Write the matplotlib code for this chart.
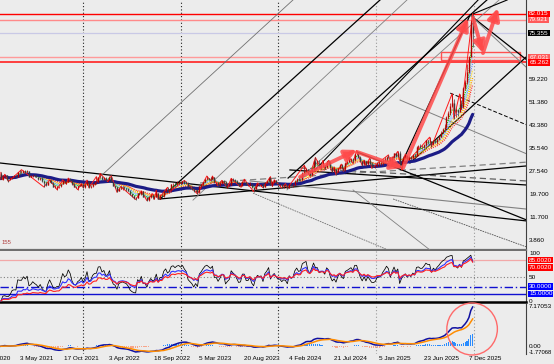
import numpy as np
import pandas as pd
import matplotlib
matplotlib.use("Agg")
import matplotlib.pyplot as plt
from matplotlib import font_manager
from matplotlib.patches import Rectangle, Ellipse

names = {f.name for f in font_manager.fontManager.ttflist}
if "Liberation Sans Narrow" in names:
    plt.rcParams["font.family"] = ["Liberation Sans Narrow", "DejaVu Sans"]
    fs = 5.4
else:
    plt.rcParams["font.family"] = ["Liberation Sans", "DejaVu Sans"]
    fs = 4.6

BG = "#ececec"

# weekly XAGUSD bars, week of 28 Feb 2021 .. week of 28 Dec 2025
start = "2021-02-28"
first_open = 26.7
close = [
    25.2, 26.2, 26.3, 25.1, 24.95, 25.3, 25.9, 26.0, 25.9, 27.5,
    27.4, 27.4, 27.95, 27.6, 28.0, 25.9, 26.1, 26.5, 26.1, 25.8,
    25.2, 25.5, 24.4, 23.7, 23.1, 24.0, 24.7, 23.8, 22.4, 22.4,
    22.6, 22.6, 23.3, 24.4, 23.9, 24.1, 25.2, 24.7, 23.3, 22.4,
    22.2, 22.7, 22.9, 23.3,
    22.4, 23.0, 24.3, 22.3, 22.5, 23.5, 23.95, 24.0, 25.8, 25.9,
    25.1, 25.5, 24.7, 24.8, 25.7, 24.1, 22.8, 22.4, 20.8, 21.8,
    22.0, 22.1, 21.9, 21.7, 21.1, 19.9, 19.2, 18.7, 18.6, 20.3,
    19.9, 20.8, 19.0, 19.0, 17.9, 18.8, 19.4, 18.9, 19.0, 20.1,
    18.3, 19.3, 19.2, 20.9, 21.7, 20.9, 21.4, 23.2, 23.5, 23.2,
    23.8, 24.0,
    23.8, 24.3, 23.9, 23.6, 22.4, 22.0, 21.6, 20.8, 21.2, 20.5,
    22.6, 23.2, 24.1, 25.0, 25.4, 25.2, 25.0, 25.6, 23.9, 23.9,
    23.1, 23.6, 24.3, 24.2, 22.4, 22.8, 23.1, 25.0, 24.6, 24.3,
    23.6, 22.7, 22.8, 24.2, 24.2, 23.0, 23.0, 23.5, 22.3, 21.6,
    22.7, 23.4, 23.2, 23.3, 22.3, 23.8, 24.4, 25.5, 23.0, 24.0,
    24.6, 23.8,
    23.2, 23.2, 22.6, 22.9, 22.8, 22.1, 23.4, 22.9, 23.1, 24.4,
    25.2, 24.7, 24.9, 27.3, 28.0, 28.6, 27.2, 26.6, 28.2, 31.4,
    30.3, 30.4, 29.2, 29.6, 29.6, 29.1, 31.2, 30.8, 29.2, 28.0,
    28.5, 27.5, 28.9, 29.9, 28.9, 28.5, 30.7, 31.1, 31.6, 32.1,
    31.6, 33.7, 33.7, 32.6, 31.3, 30.3, 31.3, 30.1, 31.2, 30.4,
    29.5, 29.4,
    29.6, 30.4, 30.4, 30.6, 31.3, 31.9, 32.8, 32.5, 31.2, 32.5,
    34.0, 33.1, 34.1, 29.6, 31.3, 32.3, 33.1, 32.0, 32.7, 32.3,
    33.4, 33.0, 36.0, 36.3, 36.0, 36.0, 36.9, 38.4, 38.2, 38.2,
    37.0, 38.3, 38.0, 38.9, 39.7, 41.0, 42.2, 43.1, 46.4, 48.0,
    50.2, 51.3, 48.6, 48.7, 48.3, 50.8, 50.0, 56.5, 58.4, 62.0,
    67.1, 79.3, 75.355,
]
high = [
    27.4, 26.4, 26.7, 26.4, 25.2, 25.6, 26.1, 26.6, 26.4, 27.6,
    28.1, 28.3, 28.1, 28.3, 28.3, 28.0, 26.3, 26.6, 26.4, 26.4,
    25.8, 25.8, 25.6, 24.4, 23.9, 24.1, 24.8, 24.8, 24.0, 22.9,
    22.8, 22.8, 23.5, 24.8, 24.6, 24.3, 25.4, 25.4, 24.8, 23.6,
    22.6, 22.9, 23.1, 23.5,
    23.4, 23.4, 24.7, 24.3, 22.8, 23.6, 24.0, 25.9, 25.9, 27.0,
    26.1, 25.9, 25.6, 24.9, 26.0, 26.2, 24.2, 22.9, 22.6, 22.0,
    22.5, 22.5, 22.5, 22.0, 21.9, 21.4, 20.1, 19.4, 19.0, 20.4,
    20.4, 20.9, 20.9, 19.3, 19.0, 19.1, 19.9, 20.0, 19.3, 21.2,
    20.2, 19.4, 19.8, 21.0, 22.0, 22.2, 21.5, 23.4, 23.6, 24.0,
    24.3, 24.2,
    24.5, 24.4, 24.6, 24.3, 24.2, 22.5, 22.2, 21.9, 21.3, 21.3,
    22.7, 23.5, 24.2, 25.1, 26.1, 25.5, 25.6, 26.1, 25.8, 24.2,
    23.8, 24.0, 24.6, 24.6, 24.3, 23.0, 23.3, 25.3, 25.3, 25.0,
    24.8, 23.7, 22.9, 24.4, 25.0, 24.2, 23.4, 23.9, 23.7, 22.0,
    22.8, 23.7, 23.6, 23.4, 23.4, 24.0, 24.5, 25.6, 25.9, 24.5,
    24.8, 24.6,
    23.8, 23.4, 23.3, 23.2, 23.5, 22.9, 23.5, 23.3, 23.2, 24.6,
    25.3, 25.8, 25.2, 27.5, 29.8, 29.0, 28.7, 27.6, 28.7, 31.5,
    32.5, 31.8, 31.6, 30.1, 31.5, 29.8, 31.3, 31.5, 31.3, 29.3,
    29.2, 28.7, 29.0, 30.1, 30.2, 29.0, 30.9, 31.3, 32.7, 32.4,
    32.2, 33.8, 34.9, 34.5, 33.0, 31.3, 31.6, 31.2, 31.4, 32.3,
    30.8, 29.9,
    30.0, 30.9, 31.2, 31.0, 32.0, 32.6, 32.9, 33.4, 32.6, 33.0,
    34.2, 34.1, 34.6, 34.6, 31.6, 33.0, 33.7, 33.3, 33.0, 33.0,
    33.6, 33.7, 36.4, 36.8, 37.3, 36.9, 37.3, 38.5, 38.4, 39.5,
    38.3, 38.6, 38.7, 39.0, 39.8, 41.5, 42.5, 43.9, 46.9, 48.6,
    51.2, 54.5, 52.6, 49.4, 49.2, 54.4, 52.2, 56.9, 59.3, 64.7,
    67.5, 80.0, 82.015,
]
low = [
    25.0, 24.8, 25.7, 24.6, 24.2, 24.6, 25.0, 25.6, 25.6, 25.8,
    26.5, 27.1, 27.3, 27.3, 27.4, 25.6, 25.7, 25.8, 25.7, 25.6,
    24.8, 24.8, 24.1, 22.3, 22.7, 22.9, 23.9, 23.6, 22.2, 22.0,
    21.4, 22.1, 22.2, 23.2, 23.7, 23.3, 23.9, 24.5, 23.0, 22.2,
    21.9, 21.4, 22.5, 22.7,
    22.0, 22.1, 22.9, 22.0, 22.0, 22.3, 23.0, 23.7, 24.0, 25.4,
    24.6, 24.8, 24.5, 24.2, 24.7, 24.0, 22.6, 22.0, 20.5, 20.8,
    21.6, 21.4, 21.5, 20.9, 20.9, 19.6, 18.8, 18.2, 18.0, 18.5,
    19.6, 19.6, 18.9, 18.8, 17.6, 17.6, 18.5, 18.1, 18.1, 19.0,
    18.1, 18.1, 18.9, 19.0, 20.5, 20.8, 20.6, 21.0, 22.1, 22.6,
    22.9, 23.4,
    23.1, 23.2, 23.3, 23.2, 22.3, 21.8, 21.3, 20.6, 20.6, 19.9,
    20.4, 22.1, 22.8, 23.9, 24.6, 24.7, 24.5, 24.8, 23.6, 23.1,
    22.7, 22.7, 23.3, 23.4, 22.3, 22.1, 22.5, 23.1, 24.4, 24.0,
    23.5, 22.6, 22.3, 22.9, 23.9, 22.9, 22.7, 23.0, 21.9, 20.7,
    21.5, 22.6, 22.7, 22.6, 22.1, 22.2, 23.6, 24.5, 22.9, 22.5,
    23.7, 23.7,
    22.9, 22.6, 22.0, 22.1, 22.7, 21.9, 21.9, 22.6, 22.3, 23.0,
    24.1, 24.5, 24.4, 24.9, 27.1, 27.6, 26.7, 26.1, 26.6, 28.1,
    29.7, 30.0, 29.2, 28.7, 29.2, 28.6, 28.9, 30.3, 28.9, 27.5,
    27.6, 26.5, 27.4, 28.6, 28.8, 27.7, 27.9, 30.1, 30.8, 30.8,
    30.5, 31.4, 33.3, 32.4, 30.8, 29.7, 30.0, 29.7, 30.0, 30.3,
    28.8, 29.2,
    28.8, 29.6, 29.7, 30.0, 30.0, 31.6, 31.2, 32.4, 31.1, 31.1,
    32.2, 32.8, 32.7, 29.2, 28.3, 31.4, 32.2, 31.8, 31.6, 31.6,
    32.2, 32.7, 32.9, 35.4, 35.5, 35.3, 35.6, 36.5, 37.2, 37.9,
    36.2, 36.9, 37.5, 37.3, 38.4, 39.6, 40.8, 41.7, 42.8, 45.9,
    47.1, 50.0, 45.9, 46.3, 46.9, 48.1, 49.1, 49.5, 55.8, 57.9,
    61.8, 68.0, 70.6,
]

date_labels = ["15 Nov 2020", "3 May 2021", "17 Oct 2021", "3 Apr 2022", "18 Sep 2022",
               "5 Mar 2023", "20 Aug 2023", "4 Feb 2024", "21 Jul 2024", "5 Jan 2025",
               "23 Jun 2025", "7 Dec 2025"]
separators = ["2022-01-01", "2023-01-01", "2024-01-01", "2025-01-01", "2026-01-01"]

# horizontal levels: price, colour, width
levels = [(82.015, "#ff0000", 1.0), (79.921, "#ff8a8a", 1.0), (75.355, "#c9c9e6", 0.9),
          (67.031, "#ff9a9a", 1.0), (65.262, "#ff3030", 1.3)]
price_labels = ["59.220", "51.380", "43.380", "35.540", "27.540", "19.700", "11.700", "3.860"]
level_labels = [("82.015", 82.015, "#ff0000"), ("79.921", 79.921, "#ff5a5a"),
                ("75.355", 75.355, "#000000"), ("67.031", 67.031, "#ff5a5a"),
                ("65.262", 65.262, "#ff0000")]
rsi_labels = [("100", 100, None), ("85.0020", 85, "#ff0000"), ("70.0020", 70, "#ff0000"),
              ("50", 50, None), ("30.0000", 30, "#0000ff"), ("15.0000", 15, "#0000ff"), ("0", 0, None)]

# hand drawn trend lines: bar0, price0, bar1, price1, colour, width, style
trendlines = [
    (-0.5, 30.6, 281.0, 10.6, "black", 0.9, "-"),
    (85.0, 18.2, 281.0, 29.6, "black", 0.9, "-"),
    (106.4, 23.7, 281.0, 30.9, "#808080", 0.9, (0, (5, 3))),
    (154.4, 28.2, 281.0, 23.0, "black", 0.9, "-"),
    (159.8, 28.9, 281.0, 24.4, "#606060", 0.9, (0, (5, 3))),
    (133.1, 24.4, 281.0, 14.7, "#808080", 0.8, "-"),
    (190.2, 34.4, 281.0, 10.9, "black", 0.9, "-"),
    (213.2, 52.3, 281.0, 33.7, "#808080", 0.7, "-"),
    (134.7, 20.2, 206.8, 0.6, "#707070", 0.6, (0, (2, 1))),
    (188.1, 21.3, 229.2, 0.6, "#808080", 0.6, "-"),
    (209.5, 18.2, 281.0, 1.6, "#505050", 0.6, (0, (2, 1))),
    (52.9, 25.8, 156.0, 86.8, "#707070", 0.6, "-"),
    (85.0, 18.2, 202.5, 86.8, "black", 0.9, "-"),
    (102.6, 17.8, 216.9, 86.8, "#808080", 0.6, "-"),
    (153.4, 25.4, 259.6, 86.8, "black", 0.9, "-"),
    (152.8, 21.3, 266.1, 86.8, "#808080", 0.6, "-"),
    (213.2, 29.2, 250.6, 81.6, "black", 0.9, "-"),
    (167.8, 28.2, 254.9, 86.8, "black", 0.8, "-"),
    (218.5, 30.6, 281.0, 67.4, "black", 0.9, "-"),
    (250.6, 81.6, 281.0, 66.1, "black", 0.9, "-"),
    (250.6, 81.6, 281.0, 63.4, "#808080", 0.7, "-"),
    (250.6, 81.6, 270.4, 86.8, "black", 0.8, "-"),
    (240.0, 54.7, 281.0, 43.7, "black", 0.7, (0, (4, 2))),
]
# red arrows: from (bar, price) to (bar, price)
arrows = [
    (159.8, 25.8, 190.2, 35.1),
    (190.2, 34.4, 214.8, 28.9),
    (214.8, 28.9, 249.5, 80.6),
    (252.2, 80.6, 257.5, 68.5),
    (257.5, 68.5, 265.5, 84.0),
]
zone = (234.9, 66.1, 277.3, 68.9)

# ---- derived series ----
n = len(close)
idx = np.arange(n)
c = np.array(close)
h = np.array(high)
l = np.array(low)
o = np.concatenate([[first_open], c[:-1]])
s0 = pd.Timestamp(start)


def bar_of(d):
    return (pd.Timestamp(d) - s0).days / 7.0


def ema(x, p, adjust=False):
    return pd.Series(x).ewm(span=p, adjust=adjust).mean().values


def rsi(x, p):
    d = np.diff(np.concatenate([[first_open], x]))
    up = pd.Series(np.clip(d, 0, None)).ewm(alpha=1.0 / p, adjust=False).mean()
    dn = pd.Series(np.clip(-d, 0, None)).ewm(alpha=1.0 / p, adjust=False).mean()
    return (100 - 100 / (1 + up / dn)).values


def zigzag(hi, lo, pct):
    piv = [(0, lo[0])]
    rising = True
    ei, ev = 0, hi[0]
    for i in range(1, len(hi)):
        if rising:
            if hi[i] > ev:
                ei, ev = i, hi[i]
            elif lo[i] < ev * (1 - pct):
                piv.append((ei, ev))
                rising = False
                ei, ev = i, lo[i]
        else:
            if lo[i] < ev:
                ei, ev = i, lo[i]
            elif hi[i] > ev * (1 + pct):
                piv.append((ei, ev))
                rising = True
                ei, ev = i, hi[i]
    piv.append((ei, ev))
    return zip(*piv)


# ---- figure ----
fig = plt.figure(figsize=(5.54, 3.64), dpi=100, facecolor=BG)
ax = fig.add_axes([0, 0.3132, 0.9495, 0.6868])
ar = fig.add_axes([0, 0.1703, 0.9495, 0.1401])
am = fig.add_axes([0, 0.0275, 0.9495, 0.1374])
for a in (ax, ar, am):
    a.set_facecolor(BG)
    a.set_xlim(-0.48, 280.5)
    a.set_xticks([])
    a.set_yticks([])
    for sp in a.spines.values():
        sp.set_visible(False)
    a.spines["right"].set_visible(True)
    a.spines["right"].set_color("#404040")
    a.spines["right"].set_linewidth(0.8)
    for k, d in enumerate(separators):
        a.axvline(bar_of(d), color="#222222" if k < 3 else "#9a9a9a", lw=0.8,
                  ls=(0, (1, 2)), zorder=1)
ax.spines["bottom"].set_visible(True)
ax.spines["bottom"].set_color("#707070")
ax.spines["bottom"].set_linewidth(1.6)
ar.spines["bottom"].set_visible(True)
ar.spines["bottom"].set_color("black")
ar.spines["bottom"].set_linewidth(1.8)

lab_kw = dict(fontsize=fs, va="center", ha="left", clip_on=False)
LX = 1.006

# main chart
ax.set_ylim(0.6, 86.8)
for p, col, w in levels:
    ax.axhline(p, color=col, lw=w, zorder=2)
x0, p0, x1, p1 = zone
ax.add_patch(Rectangle((x0, p0), x1 - x0, p1 - p0, fill=False, ec="#ff5050", lw=1.0, zorder=3))

for x0, p0, x1, p1, col, w, ls in trendlines:
    ax.plot([x0, x1], [p0, p1], color=col, lw=w, ls=ls, zorder=3)

ribbon = [(4, "#00dd00"), (6, "#66ccff"), (8, "#6688ff"), (10, "#ffdd00"), (13, "#ff9900"), (16, "#ff3333")]
for p, col in ribbon:
    ax.plot(idx, ema(c, p), color=col, lw=0.8, ls=(0, (1, 1)), zorder=4)
ax.plot(idx, ema(c, 40, adjust=True), color="#1c1c86", lw=2.3, zorder=4, solid_capstyle="round")

zx, zy = zigzag(h, l, 0.06)
ax.plot(list(zx), list(zy), color="#ff1a1a", lw=0.7, zorder=5)

bull = c >= o
cols = np.where(bull, "#b00000", "#3a3a3a")
ax.vlines(idx, l, h, colors=cols, lw=0.5, zorder=6)
ax.vlines(idx, np.minimum(o, c), np.maximum(o, c), colors=cols, lw=1.0, zorder=6)

for x0, p0, x1, p1 in arrows:
    ax.annotate("", xy=(x1, p1), xytext=(x0, p0),
                arrowprops=dict(arrowstyle="-|>,head_length=0.7,head_width=0.35", lw=2.8,
                                color="#ff4a4a", alpha=0.85, shrinkA=0, shrinkB=0), zorder=8)

ty = ax.get_yaxis_transform()
for t in price_labels:
    ax.text(LX, float(t), t, transform=ty, color="black", **lab_kw)
for t, p, fc in level_labels:
    ax.text(LX, p, t, transform=ty, color="white",
            bbox=dict(boxstyle="square,pad=0.12", fc=fc, ec="none"), **lab_kw)
ax.text(0.002, 0.02, "155", transform=ax.transAxes, color="#b04040", fontsize=4.2,
        ha="left", va="bottom")

# RSI window
ar.set_ylim(-2.1, 104.2)
ar.axhline(85, color="#f2a8a8", lw=0.9)
ar.axhline(50, color="#808080", lw=0.8, ls=(0, (1, 2)))
ar.axhline(30, color="#1010d0", lw=1.0, ls=(0, (6, 2, 1, 2)))
ar.axhline(15, color="#1010d0", lw=1.0)
ar.plot(idx, rsi(c, 7), color="black", lw=0.55, zorder=4)
ar.plot(idx, rsi(c, 14), color="#3030ff", lw=0.8, zorder=5)
ar.plot(idx, rsi(c, 21), color="#ff2020", lw=0.8, zorder=6)
tr = ar.get_yaxis_transform()
for t, p, fc in rsi_labels:
    if fc:
        ar.text(LX, p, t, transform=tr, color="white",
                bbox=dict(boxstyle="square,pad=0.12", fc=fc, ec="none"), **lab_kw)
    else:
        ar.text(LX, p, t, transform=tr, color="black", **lab_kw)

# MACD window
macd = ema(c, 12) - ema(c, 26)
sig = ema(macd, 9)
hist = macd - sig
top = max(macd.max(), sig.max())
bot = min(macd.min(), sig.min(), hist.min())
px = (top - bot) / 45.0
am.set_ylim(bot - 2 * px, top + 3 * px)
am.bar(idx, hist, width=0.6, color=np.where(hist >= 0, "#2a8cff", "#f7a58a"), zorder=3)
am.plot(idx, macd, color="#1010a0", lw=1.1, zorder=4)
am.plot(idx, sig, color="#ff8c00", lw=1.1, zorder=5)
am.add_patch(Ellipse((251.7, 0.5), 27, 1.04, transform=am.get_xaxis_transform(),
                     fill=False, ec="#ff6a6a", lw=1.0, clip_on=False, zorder=7))
tm = am.get_yaxis_transform()
am.text(LX, top, "7.17053", transform=tm, color="black", **lab_kw)
am.text(LX, 0, "0.00", transform=tm, color="black", **lab_kw)
am.text(LX, bot - px, "-1.77068", transform=tm, color="black",
        **dict(lab_kw, fontsize=fs * 0.93))

tx = am.get_xaxis_transform()
for t in date_labels:
    am.text(bar_of(pd.to_datetime(t)) + 0.8, -0.05, t, transform=tx, fontsize=fs,
            ha="left", va="top", clip_on=False)

fig.savefig("out.png", dpi=100, facecolor=BG)
